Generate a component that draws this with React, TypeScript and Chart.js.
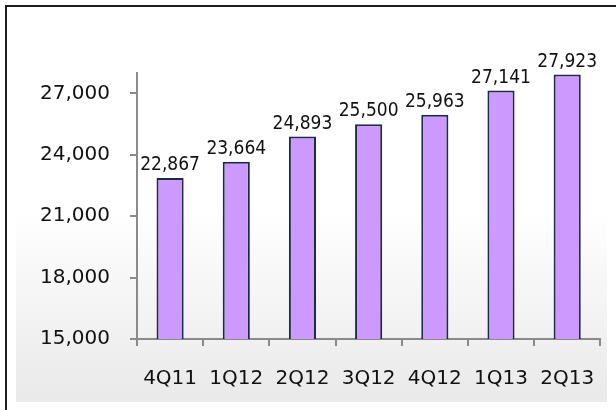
import React, { useEffect, useRef } from "react";
import { Chart, registerables } from "chart.js";

Chart.register(...registerables);

const categories = ["4Q11", "1Q12", "2Q12", "3Q12", "4Q12", "1Q13", "2Q13"];
const values = [22867, 23664, 24893, 25500, 25963, 27141, 27923];
const yTicks = [15000, 18000, 21000, 24000, 27000];
const yMin = 15000;
const yMax = 28000;

const fmt = (v: number) => v.toLocaleString("en-US");

const labelPlugin = {
  id: "barLabels",
  afterDatasetsDraw(chart: any) {
    const ctx = chart.ctx;
    const meta = chart.getDatasetMeta(0);
    ctx.save();
    ctx.font = "19px 'DejaVu Sans Condensed', 'DejaVu Sans'";
    ctx.fillStyle = "#111";
    ctx.textAlign = "center";
    ctx.textBaseline = "alphabetic";
    meta.data.forEach((bar: any, i: number) => {
      ctx.fillText(fmt(values[i]), bar.x, bar.y - 8);
    });
    ctx.restore();
  },
};

export default function App() {
  const ref = useRef<HTMLCanvasElement>(null);
  useEffect(() => {
    document.body.style.margin = "0";
    const chart = new Chart(ref.current!, {
      type: "bar",
      data: {
        labels: categories,
        datasets: [
          {
            data: values,
            backgroundColor: "#cc99ff",
            borderColor: "#1c2a48",
            borderWidth: 2,
            barPercentage: 0.41,
            categoryPercentage: 1,
          },
        ],
      },
      options: {
        animation: false,
        responsive: false,
        maintainAspectRatio: false,
        layout: { padding: { top: 73, right: 12, left: 0, bottom: 0 } },
        plugins: { legend: { display: false }, tooltip: { enabled: false } },
        scales: {
          x: {
            afterFit: (s: any) => {
              s.height = 71;
            },
            border: { color: "#8a8a8a", width: 2 },
            grid: {
              drawOnChartArea: false,
              color: "#8a8a8a",
              lineWidth: 2,
              tickLength: 7,
              offset: true,
            },
            ticks: {
              color: "#111",
              font: { family: "'DejaVu Sans'", size: 20 },
              padding: 21,
              maxRotation: 0,
              autoSkip: false,
            },
          },
          y: {
            min: yMin,
            max: yMax,
            afterFit: (s: any) => {
              s.width = 137;
            },
            afterBuildTicks: (s: any) => {
              s.ticks = yTicks.map((v) => ({ value: v }));
            },
            border: { color: "#8a8a8a", width: 2 },
            grid: {
              drawOnChartArea: false,
              color: "#8a8a8a",
              lineWidth: 2,
              tickLength: 7,
            },
            ticks: {
              color: "#111",
              font: { family: "'DejaVu Sans'", size: 20 },
              padding: 20,
              callback: (v: any) => fmt(Number(v)),
            },
          },
        },
      },
      plugins: [labelPlugin],
    });
    return () => chart.destroy();
  }, []);

  return (
    <div style={{ position: "relative", width: 616, height: 410, overflow: "hidden", background: "#fff" }}>
      <div
        style={{
          position: "absolute",
          left: 5,
          top: 5,
          width: 611,
          height: 405,
          borderLeft: "2px solid #1e1e1e",
          borderTop: "2px solid #1e1e1e",
          boxSizing: "border-box",
        }}
      />
      <div
        style={{
          position: "absolute",
          left: 16,
          top: 16,
          width: 591,
          height: 386,
          background: "linear-gradient(to bottom, #ffffff 0%, #ffffff 50%, #e9e9e9 100%)",
        }}
      />
      <canvas
        ref={ref}
        width={616}
        height={410}
        style={{ position: "absolute", left: 0, top: 0, width: 616, height: 410 }}
      />
    </div>
  );
}
